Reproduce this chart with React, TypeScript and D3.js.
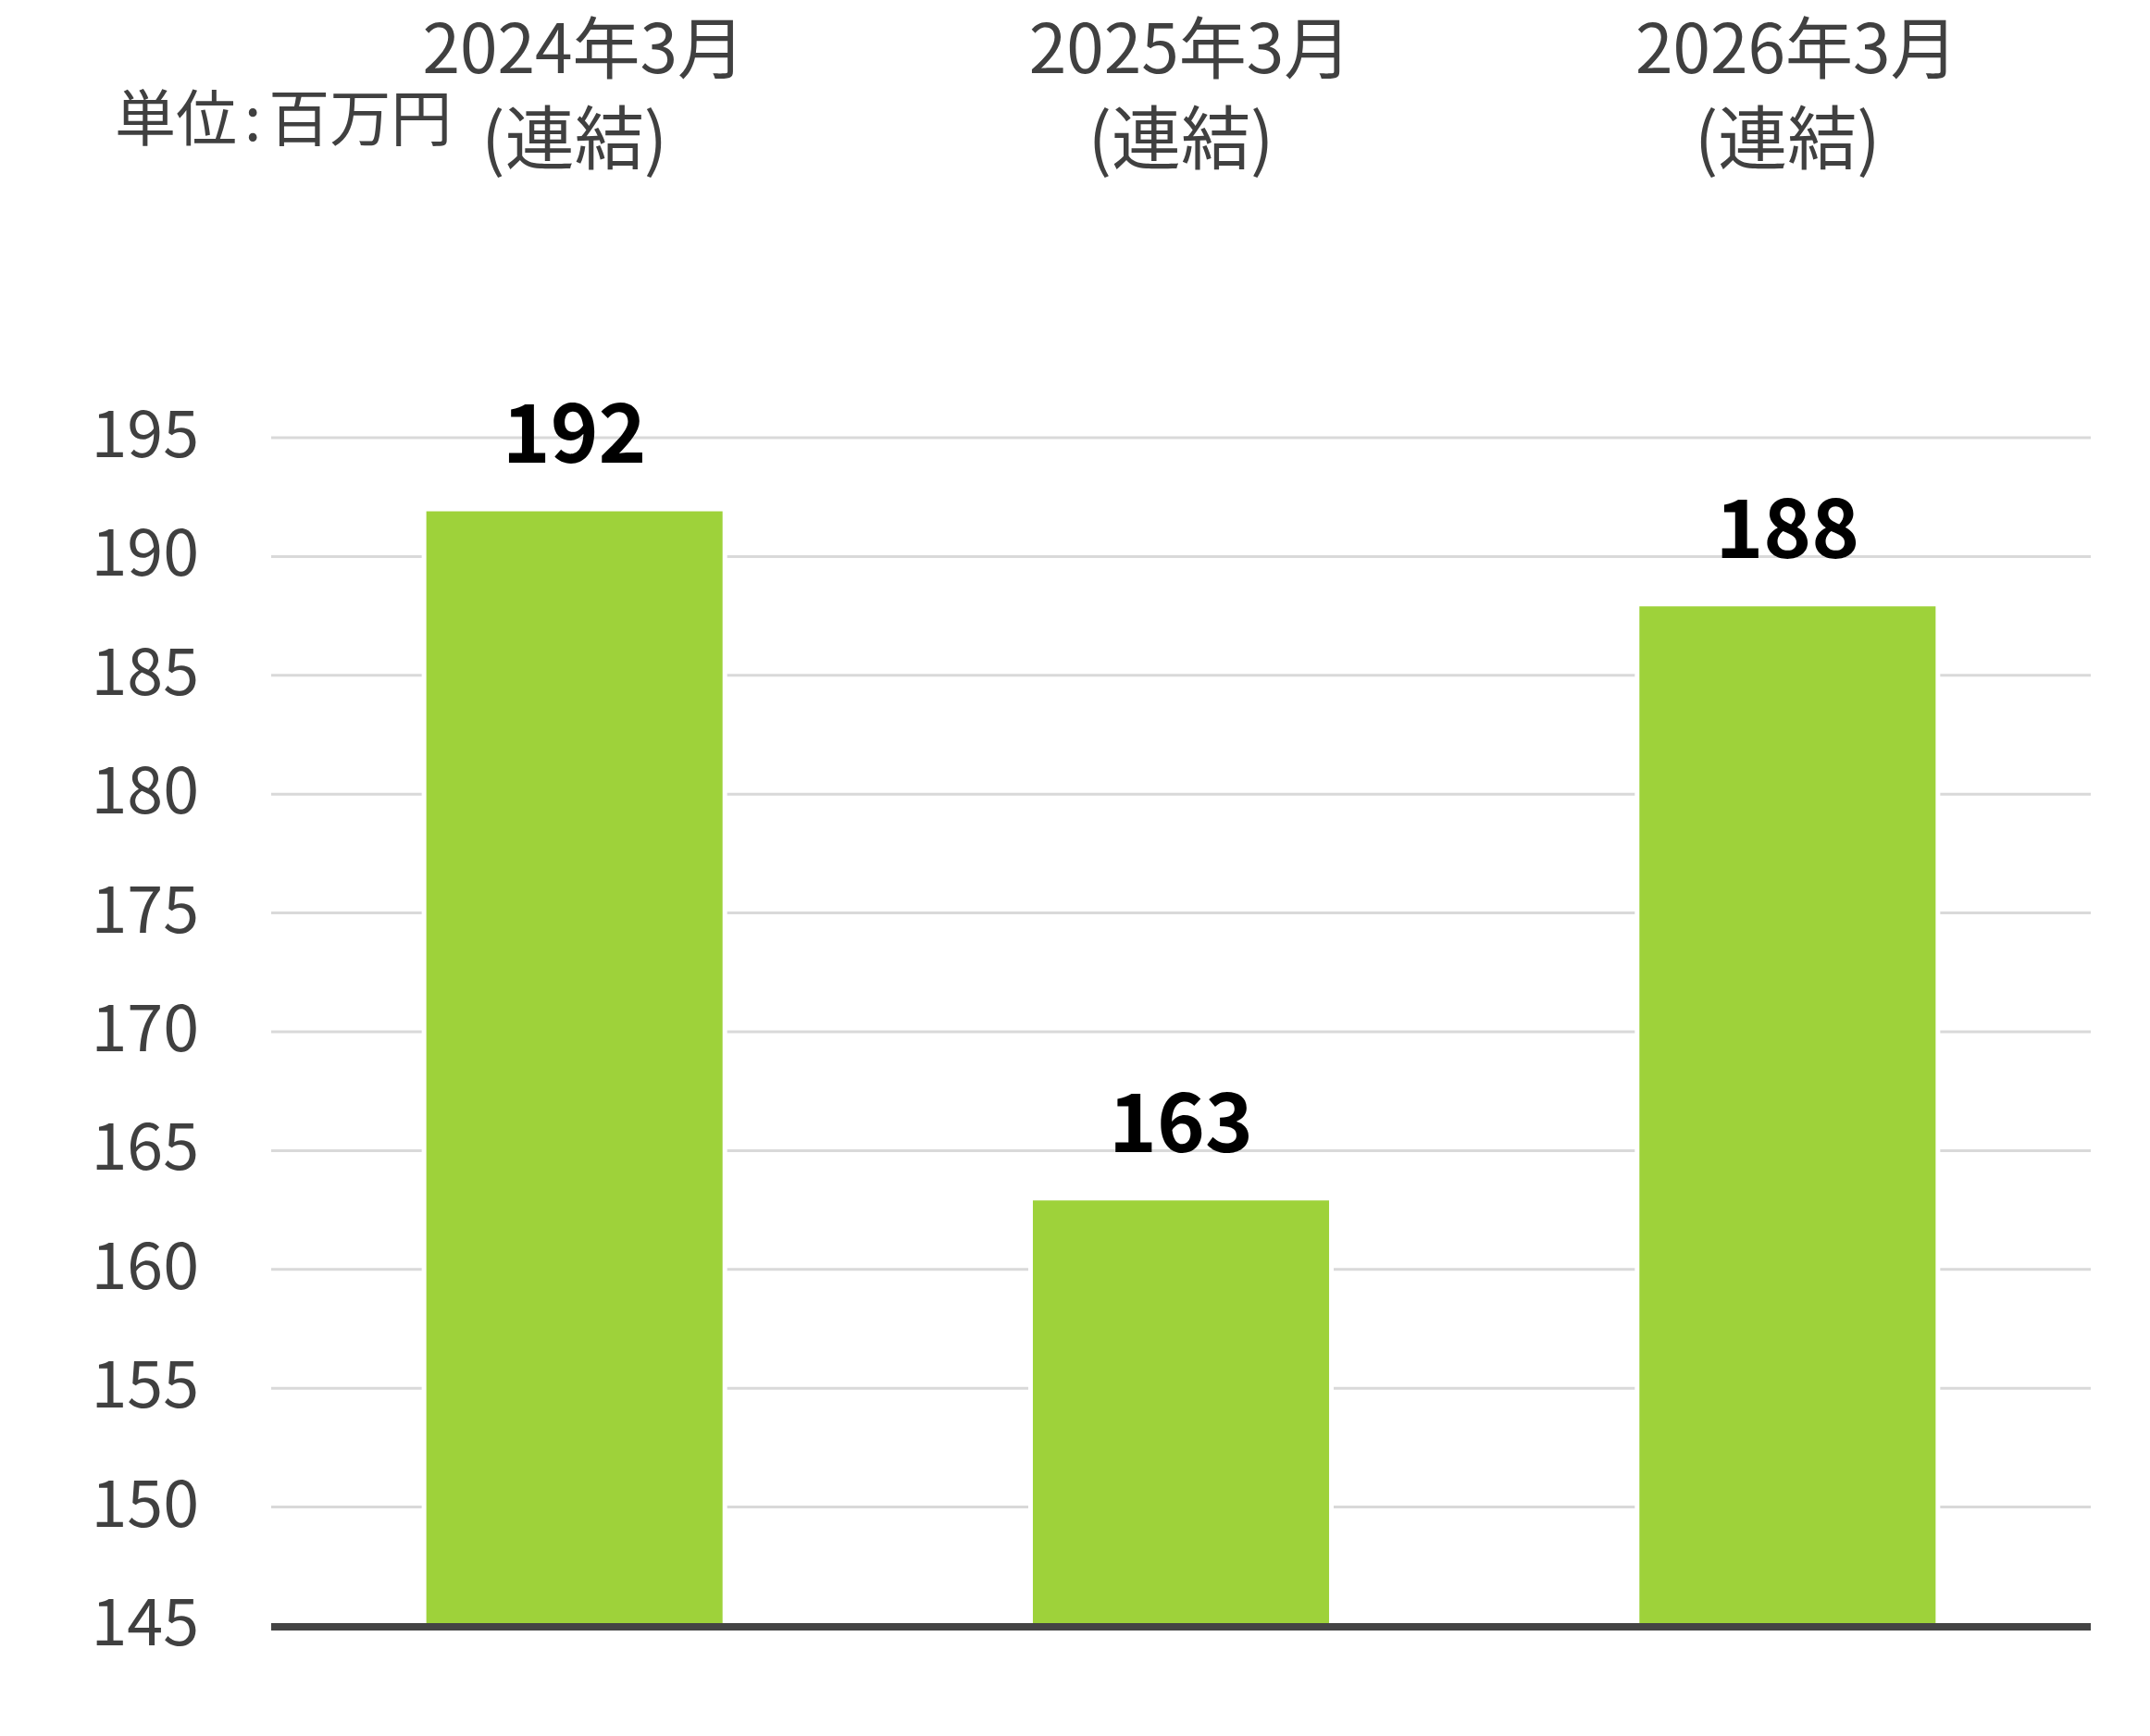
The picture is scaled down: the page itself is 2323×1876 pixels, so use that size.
import { useEffect } from 'react'
import * as d3 from 'd3'

// chart data
const periods = ['2024年3月', '2025年3月', '2026年3月']
const periodNotes = ['(連結)', '(連結)', '(連結)']
const sales = [192, 163, 188]
const yTicks = [145, 150, 155, 160, 165, 170, 175, 180, 185, 190, 195]
const unitLabel = ['単位', ':', '百万円']

const WIDTH = 2323
const HEIGHT = 1876
const FONT = '"Noto Sans CJK JP", "Noto Sans", sans-serif'
const TEXT_COLOR = '#404040'
const BAR_COLOR = '#9ED23A'

export default function App() {
  useEffect(() => {
    document.body.style.margin = '0'
  }, [])

  const x = d3.scaleBand<string>()
    .domain(periods)
    .range([293, 2259])
    .paddingInner(0.504)
    .paddingOuter(0.252)

  const y = d3.scaleLinear()
    .domain([145, 195])
    .range([1757, 473])

  const [x0, x1] = x.range()

  return (
    <svg width={WIDTH} height={HEIGHT} style={{ display: 'block', background: '#fff' }}>
      {/* gridlines */}
      {yTicks.slice(1).map(t => (
        <line key={t} x1={x0} x2={x1} y1={y(t)} y2={y(t)} stroke="#D9D9D9" strokeWidth={3} />
      ))}

      {/* y tick labels */}
      {yTicks.map(t => (
        <text
          key={t}
          x={215}
          y={y(t) + 21}
          textAnchor="end"
          fontFamily={FONT}
          fontSize={70}
          fill={TEXT_COLOR}
        >
          {t}
        </text>
      ))}

      {/* bars */}
      {periods.map((p, i) => (
        <rect
          key={p}
          x={x(p)}
          y={y(sales[i])}
          width={x.bandwidth()}
          height={y(145) - y(sales[i])}
          fill={BAR_COLOR}
          stroke="#fff"
          strokeWidth={5}
        />
      ))}

      {/* axis line */}
      <line x1={x0} x2={x1} y1={1758} y2={1758} stroke="#444" strokeWidth={8} />

      {/* value labels */}
      {periods.map((p, i) => (
        <text
          key={p}
          x={x(p)! + x.bandwidth() / 2}
          y={y(sales[i]) - 50}
          textAnchor="middle"
          fontFamily={FONT}
          fontWeight={700}
          fontSize={88}
          fill="#000"
        >
          {sales[i]}
        </text>
      ))}

      {/* category labels on top */}
      {periods.map((p, i) => {
        const cx = x(p)! + x.bandwidth() / 2
        return (
          <g key={p} fontFamily={FONT} fill={TEXT_COLOR} textAnchor="middle">
            <text x={cx + 10} y={79} fontSize={73}>{p}</text>
            <text x={cx} y={177} fontSize={75}>{periodNotes[i]}</text>
          </g>
        )
      })}

      {/* unit */}
      <text x={124} y={152} fontFamily={FONT} fontSize={66} fill={TEXT_COLOR}>
        <tspan>{unitLabel[0]}</tspan>
        <tspan dx={8}>{unitLabel[1]}</tspan>
        <tspan dx={8}>{unitLabel[2]}</tspan>
      </text>
    </svg>
  )
}
